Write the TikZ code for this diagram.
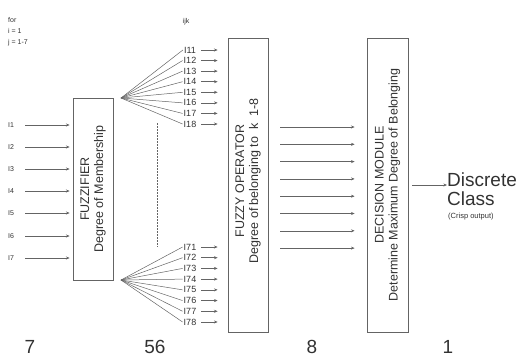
\documentclass[tikz,border=0pt]{standalone}
\usepackage{fontspec}
\setmainfont{Liberation Sans}
\usetikzlibrary{arrows.meta,positioning}
\definecolor{linec}{RGB}{100,100,100}
\definecolor{txtc}{RGB}{50,50,50}

\begin{document}
\begin{tikzpicture}[x=1pt,y=-1pt,>={Stealth[length=3.6pt,width=3pt]},
  blk/.style={draw=linec,line width=0.8pt,inner sep=0pt},
  boxtxt/.style={rotate=90,align=center,text=txtc,font=\fontsize{12.5}{14}\selectfont},
  tiny/.style={text=txtc,font=\fontsize{7}{11}\selectfont,inner sep=1pt},
  lbl/.style={text=txtc,font=\fontsize{9}{10}\selectfont,inner sep=1pt},
  big/.style={text=txtc,font=\fontsize{19}{20}\selectfont,inner sep=0pt},
  wire/.style={draw=linec,line width=0.5pt}]
\useasboundingbox (0,0) rectangle (525,360);

% the three blocks
\node[blk,minimum width=40pt,minimum height=182pt] (fuzz) at (93,189) {};
\node[blk,minimum width=40pt,minimum height=294pt] (fop) at (248,185) {};
\node[blk,minimum width=41pt,minimum height=294pt] (dec) at (387.5,185) {};
\node[boxtxt] (fuzztxt) at (fuzz) {FUZZIFIER\\Degree of Membership};
\node[boxtxt] (foptxt) at (248,181) {FUZZY OPERATOR\\Degree of belonging to~ k~ 1-8};
\node[boxtxt] (dectxt) at (dec) {DECISION MODULE\\Determine Maximum Degree of Belonging};

\node[tiny,anchor=north west,align=left] (cond) at (7,16) {for\\i = 1\\j = 1-7};
\node[tiny] (ijk) at (186,22) {ijk};

% crisp inputs
\foreach \i/\y in {1/125,2/147,3/169,4/191,5/213,6/236,7/258} {
  \node[tiny] (in\i) at (11,\y) {I\i};
  \draw[wire,->] ([xshift=10pt]in\i.east) -- ([xshift=-3pt]fuzz.west |- in\i);
}

% fan out of the fuzzifier, i = 1 and i = 7
\coordinate (ftop) at (121,98);
\coordinate (fbot) at (121,280);
\foreach \k [evaluate=\k as \y using 50+(\k-1)*10.57] in {1,...,8} {
  \node[lbl] (a\k) at (190,\y) {I1\k};
  \draw[wire] (ftop) -- (a\k.west);
  \draw[wire,->] ([xshift=4pt]a\k.east) -- ([xshift=-10pt]fop.west |- a\k);
}
\foreach \k [evaluate=\k as \y using 247+(\k-1)*10.71] in {1,...,8} {
  \node[lbl] (b\k) at (190,\y) {I7\k};
  \draw[wire] (fbot) -- (b\k.west);
  \draw[wire,->] ([xshift=4pt]b\k.east) -- ([xshift=-10pt]fop.west |- b\k);
}
\draw[wire,dash pattern=on 1.5pt off 1.5pt] (157,123) -- (157,247);

% degrees of belonging, k = 1-8
\foreach \k [evaluate=\k as \y using 127+(\k-1)*17.3] in {1,...,8} {
  \coordinate (m\k) at (280,\y);
  \draw[wire,->] (m\k) -- ([xshift=-12pt]dec.west |- m\k);
}

% output
\node[big,anchor=west] (disc) at (447,180) {Discrete};
\node[big,anchor=west] (cls) at (447,199) {Class};
\node[text=txtc,font=\fontsize{7.5}{9}\selectfont,inner sep=0pt,anchor=west] (crisp) at (448,217) {(Crisp output)};
\draw[wire,->] ([xshift=4pt]dec.east) -- (disc.west |- dec.east);

% counts
\foreach \n/\x in {7/30,56/155,8/312,1/448}
  \node[big] (n\n) at (\x,347) {\n};
\end{tikzpicture}
\end{document}
